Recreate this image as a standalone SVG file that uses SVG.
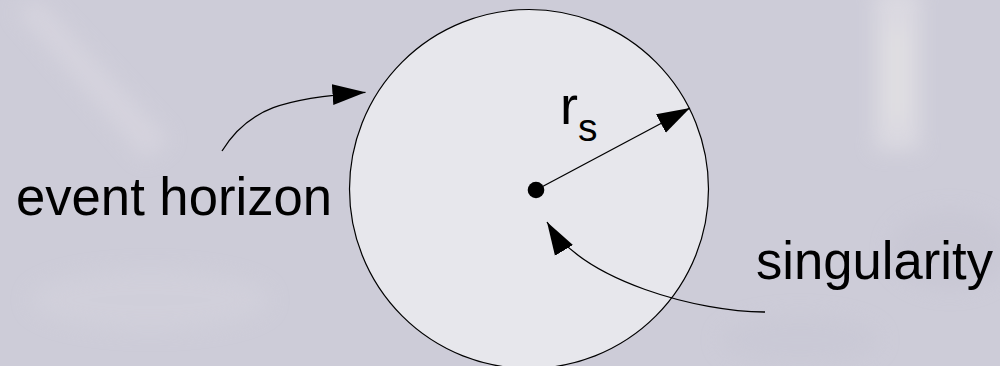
<svg xmlns="http://www.w3.org/2000/svg" width="1000" height="366" viewBox="0 0 1000 366">
<defs>
<style>
.lbl{font-family:"Liberation Sans","DejaVu Sans",sans-serif;fill:#000}
.conn{fill:none;stroke:#000;stroke-width:1.3}
</style>
<marker id="ah" markerUnits="userSpaceOnUse" markerWidth="34" markerHeight="22" refX="33" refY="10.5" orient="auto" viewBox="0 0 34 21">
<path d="M0,0 L33,10.5 L0,21 z" fill="#000"/>
</marker>
<filter id="blur" x="-20%" y="-20%" width="140%" height="140%"><feGaussianBlur stdDeviation="10"/></filter>
</defs>
<g id="background">
<rect x="0" y="0" width="1000" height="366" fill="#CDCCD8"/>
<g filter="url(#blur)" opacity="0.55">
<path d="M15,10 L40,0 L170,140 L145,160 z" fill="#DCD9E2"/>
<rect x="875" y="-10" width="45" height="160" fill="#E6E4E8"/>
<rect x="885" y="30" width="25" height="90" fill="#EFEDEA"/>
<ellipse cx="150" cy="300" rx="120" ry="30" fill="#D4D3DD"/>
<ellipse cx="950" cy="250" rx="60" ry="40" fill="#C6C5D2"/>
<ellipse cx="800" cy="340" rx="80" ry="25" fill="#C8C7D4"/>
</g>
</g>
<g id="event-horizon">
<circle cx="529" cy="189" r="179.5" fill="#E7E7EC" stroke="#000" stroke-width="1.2"/>
</g>
<g id="singularity-dot">
<circle cx="536" cy="190" r="8.3" fill="#000"/>
</g>
<g id="connectors">
<path class="conn" d="M536,190 L690,108" marker-end="url(#ah)"/>
<path class="conn" d="M222,151 C248,108 285,98 365.5,92.3" marker-end="url(#ah)"/>
<path class="conn" d="M765,312 C700,312 583,282 547,222" marker-end="url(#ah)"/>
</g>
<g id="labels">
<text class="lbl" x="16" y="214.5" font-size="54" textLength="316" lengthAdjust="spacingAndGlyphs">event horizon</text>
<text class="lbl" x="756" y="278.5" font-size="54" textLength="237" lengthAdjust="spacingAndGlyphs">singularity</text>
<text class="lbl" x="560" y="123.5" font-size="54">r</text>
<text class="lbl" x="578" y="141" font-size="39">s</text>
</g>
</svg>
